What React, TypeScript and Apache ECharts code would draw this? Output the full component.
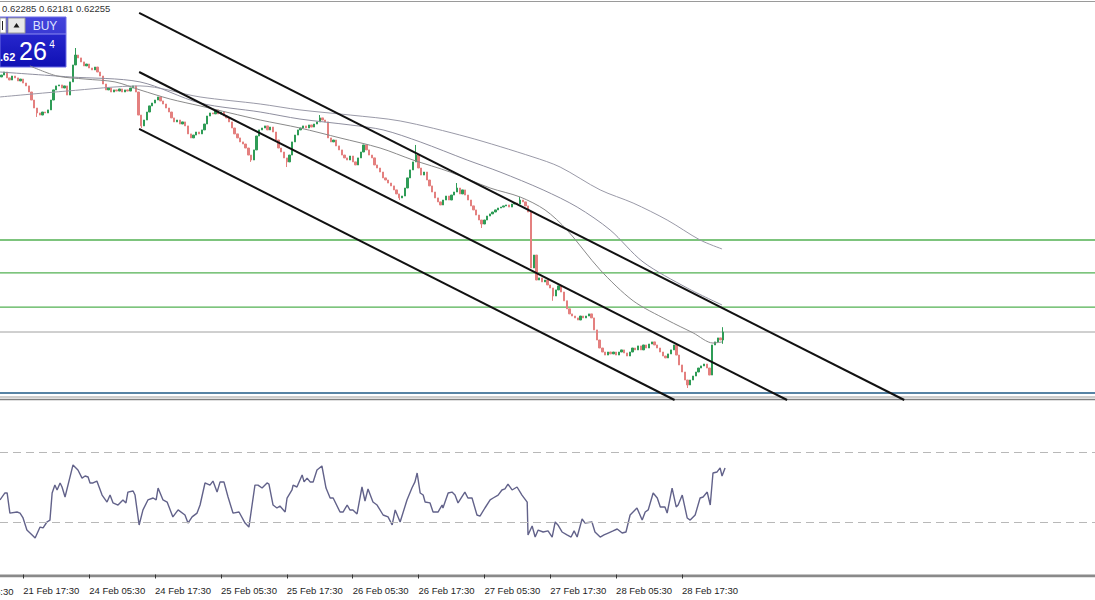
import React, { useEffect, useRef } from "react";
import * as echarts from "echarts";

// ---------- data ----------
const SLOT_COUNT = 399; // 30-minute slots visible across the window
const firstOpen = 0.63849;

// closing prices of the M30 candles (index = slot)
const closes = [
  0.63861, 0.6388, 0.63843, 0.6383, 0.63855,
  0.63843, 0.63824, 0.63836, 0.63811, 0.63793,
  0.63755, 0.63705, 0.63655, 0.63624, 0.63611,
  0.6363, 0.63624, 0.63643, 0.63705, 0.63768,
  0.63793, 0.63799, 0.6378, 0.63793, 0.63736,
  0.63818, 0.63924, 0.63986, 0.63968, 0.63943,
  0.63918, 0.6393, 0.63905, 0.63893, 0.63911,
  0.6388, 0.63855, 0.63805, 0.63768, 0.6378,
  0.63755, 0.63768, 0.63761, 0.63774, 0.63755,
  0.63768, 0.63761, 0.6378, 0.63793, 0.63755,
  0.63611, 0.63543, 0.6358, 0.6363, 0.63668,
  0.63686, 0.63705, 0.63724, 0.63699, 0.6368,
  0.63655, 0.6363, 0.63593, 0.63568, 0.6358,
  0.63555, 0.63568, 0.63543, 0.63493, 0.63468,
  0.63486, 0.63505, 0.63493, 0.63518, 0.63555,
  0.63605, 0.63624, 0.63618, 0.63643, 0.63618,
  0.6363, 0.63605, 0.63593, 0.63568, 0.6353,
  0.63493, 0.63468, 0.63443, 0.6343, 0.63405,
  0.63361, 0.6333, 0.63393, 0.6348, 0.63518,
  0.6353, 0.63543, 0.63518, 0.63536, 0.63505,
  0.63455, 0.63405, 0.6338, 0.63343, 0.63318,
  0.63361, 0.63443, 0.63486, 0.63518, 0.6353,
  0.63543, 0.6353, 0.63549, 0.63536, 0.63555,
  0.63568, 0.63593, 0.6358, 0.63568, 0.63468,
  0.63443, 0.63455, 0.63418, 0.63393, 0.63361,
  0.63343, 0.6333, 0.63355, 0.63318, 0.63299,
  0.63343, 0.6338, 0.63424, 0.63393, 0.63361,
  0.63343, 0.63299, 0.6328, 0.63255, 0.63218,
  0.63205, 0.63186, 0.63168, 0.63143, 0.63118,
  0.63093, 0.63105, 0.63155, 0.63218, 0.63268,
  0.63318, 0.63361, 0.6328, 0.63236, 0.63255,
  0.63205, 0.63168, 0.6313, 0.63093, 0.63068,
  0.63049, 0.6308, 0.63105, 0.6308, 0.63111,
  0.6313, 0.63155, 0.63118, 0.63143, 0.63111,
  0.6308, 0.63043, 0.63018, 0.62986, 0.62955,
  0.6293, 0.62955, 0.6298, 0.62993, 0.63005,
  0.63018, 0.6303, 0.63036, 0.63043, 0.63049,
  0.63036, 0.63055, 0.63061, 0.63055, 0.6308,
  0.63068, 0.63043, 0.63005, 0.62655, 0.62736,
  0.6258, 0.62593, 0.62568, 0.6258, 0.62549,
  0.6253, 0.6248, 0.62518, 0.62543, 0.62505,
  0.6245, 0.624, 0.62368, 0.62355, 0.62343,
  0.6233, 0.62355, 0.62343, 0.62355, 0.62368,
  0.62343, 0.62268, 0.62205, 0.62155, 0.6213,
  0.62111, 0.6213, 0.62118, 0.6213, 0.62111,
  0.6213, 0.62143, 0.62124, 0.62105, 0.6213,
  0.62155, 0.62143, 0.62168, 0.62143, 0.62174,
  0.62155, 0.6218, 0.62193, 0.62174, 0.62155,
  0.6213, 0.62105, 0.62093, 0.62118, 0.62143,
  0.62174, 0.62111, 0.62049, 0.62005, 0.61955,
  0.61924, 0.61955, 0.6198, 0.62005, 0.6203,
  0.62043, 0.62055, 0.6203, 0.61986, 0.62174,
  0.62193, 0.62218, 0.62205, 0.62255,
];

// visible wick extremes: [slot, low, high]
const wicks: [number, number | null, number | null][] = [
  [13, 0.63599, null],
  [27, null, 0.6403],
  [51, 0.6353, null],
  [91, 0.63318, null],
  [104, 0.63286, null],
  [116, null, 0.63611],
  [145, 0.6308, null],
  [151, null, 0.63424],
  [166, null, 0.63186],
  [175, 0.62905, null],
  [189, null, 0.63099],
  [201, 0.6245, null],
  [250, 0.61905, null],
  [263, 0.62181, 0.62285],
];

// moving averages: [slot, price]
const fastMA = [
  [10.4, 0.63918], [20.3, 0.63855], [30.5, 0.63836], [41.4, 0.63818], [50.5, 0.63768],
  [61.5, 0.63711], [72.4, 0.63668], [83.3, 0.63624], [94.3, 0.6358], [108.8, 0.6353],
  [123.4, 0.63468], [138.0, 0.63405], [150.0, 0.6333], [163.5, 0.63255], [178.1, 0.63155],
  [189.0, 0.63099], [198.1, 0.63018], [206.1, 0.62893], [218.2, 0.62643], [230.2, 0.6245],
  [242.6, 0.6233], [252.1, 0.62249], [259.3, 0.62186], [262.6, 0.62193],
];
const midMA = [
  [-0.5, 0.6388], [25.0, 0.63849], [50.5, 0.63818], [72.4, 0.63686], [94.3, 0.6363],
  [108.8, 0.63586], [127.1, 0.63549], [139.1, 0.63518], [152.6, 0.63443], [169.7, 0.6333],
  [181.7, 0.63255], [197.4, 0.63143], [209.8, 0.63036], [221.8, 0.62893], [233.8, 0.62693],
  [249.9, 0.6253], [262.6, 0.62424],
];
const slowMA = [
  [-0.5, 0.63724], [23.9, 0.63761], [50.5, 0.63793], [72.4, 0.63724], [94.3, 0.6368],
  [108.8, 0.63643], [127.1, 0.63611], [145.3, 0.63574], [169.7, 0.63474], [193.7, 0.63349],
  [203.6, 0.63286], [218.2, 0.63143], [230.2, 0.63061], [242.6, 0.62955], [254.6, 0.6283],
  [262.6, 0.62774],
];

// trend channel lines: [slot, price] end points
const channelUpper = [[50.2, 0.64249], [329.0, 0.6183]];
const channelMiddle = [[50.2, 0.6388], [286.3, 0.6183]];
const channelLower = [[50.2, 0.63524], [245.3, 0.6183]];

// horizontal levels
const greenLevels = [0.6283, 0.62624, 0.62411];
const bidPrice = 0.62255;
const blueLevel = 0.61874;

// RSI readings: [slot, value]
const rsi = [
  [-0.5, 42.6], [1.3, 46.6], [2.1, 46.6], [3.1, 35.1], [5.7, 35.7], [6.8, 35.1], [7.9, 32.3],
  [9.3, 25.4], [11.2, 22.6], [12.3, 20.9], [14.1, 27.1], [15.2, 26.6], [16.6, 30.0], [17.7, 31.1],
  [18.5, 46.6], [19.5, 51.1], [20.3, 48.3], [21.4, 52.3], [22.1, 50.0], [23.2, 44.3], [26.1, 62.6],
  [27.9, 59.7], [29.4, 55.1], [30.5, 56.3], [31.6, 55.7], [32.3, 52.3], [33.4, 52.3], [34.8, 53.4],
  [36.7, 45.4], [38.5, 41.4], [39.6, 45.4], [40.7, 40.9], [42.5, 39.7], [44.3, 42.6], [45.4, 40.9],
  [46.1, 47.1], [48.0, 47.7], [48.7, 45.4], [50.2, 28.3], [51.6, 36.9], [53.4, 42.6], [55.3, 43.7],
  [56.4, 42.6], [57.1, 49.4], [58.9, 42.6], [60.4, 41.4], [62.5, 32.9], [64.4, 36.9], [66.9, 34.0],
  [68.0, 29.4], [69.5, 32.9], [71.3, 35.1], [72.4, 39.7], [74.2, 52.3], [76.0, 51.1], [77.1, 53.4],
  [78.6, 47.1], [79.7, 52.9], [81.1, 52.9], [82.6, 44.3], [84.4, 35.1], [86.6, 35.7], [88.8, 29.4],
  [90.2, 27.1], [92.4, 51.1], [93.5, 51.1], [95.0, 49.4], [96.8, 52.3], [97.5, 51.7], [99.0, 39.7],
  [100.4, 38.0], [101.5, 39.1], [103.4, 35.7], [104.1, 43.7], [105.9, 48.3], [106.3, 51.1],
  [107.7, 50.0], [109.6, 56.9], [110.3, 52.9], [111.4, 55.1], [112.5, 52.9], [113.6, 52.9],
  [115.0, 59.7], [116.8, 62.0], [118.3, 49.4], [119.8, 43.7], [120.9, 43.7], [123.4, 35.7],
  [124.5, 35.7], [126.0, 39.7], [127.0, 36.9], [128.1, 36.9], [129.6, 34.6], [131.4, 50.0],
  [132.5, 42.0], [133.6, 48.9], [135.4, 41.4], [136.9, 39.7], [139.1, 34.0], [140.9, 32.9],
  [142.4, 28.3], [143.5, 36.9], [145.3, 30.0], [147.8, 42.6], [149.6, 49.4], [150.7, 52.9],
  [151.5, 58.0], [152.6, 46.6], [153.7, 45.4], [154.4, 41.4], [156.2, 40.9], [157.3, 35.7],
  [159.1, 35.7], [160.6, 39.7], [160.9, 38.0], [162.8, 46.6], [164.2, 47.1], [165.3, 45.4],
  [166.4, 40.9], [168.9, 47.1], [170.0, 43.7], [171.5, 43.7], [173.3, 34.0], [174.4, 33.4],
  [176.2, 38.0], [178.1, 42.6], [179.2, 43.7], [181.0, 45.4], [182.4, 48.3], [183.5, 48.9],
  [184.6, 51.7], [186.1, 48.3], [187.9, 50.0], [189.7, 45.4], [191.6, 41.4], [191.9, 22.6],
  [193.4, 27.7], [194.5, 21.4], [195.6, 25.4], [197.4, 24.3], [199.2, 24.9], [200.7, 21.4],
  [201.8, 30.0], [202.8, 28.3], [204.3, 24.3], [206.1, 22.6], [207.6, 21.4], [208.7, 24.9],
  [209.8, 21.4], [211.6, 31.7], [212.7, 29.4], [215.2, 30.0], [216.3, 24.3], [218.2, 21.4],
  [219.6, 22.6], [221.1, 23.7], [222.9, 24.9], [224.4, 26.0], [226.2, 23.7], [227.6, 24.3],
  [229.1, 34.0], [231.6, 38.0], [233.5, 31.1], [234.6, 35.7], [235.7, 36.9], [237.5, 46.6],
  [239.0, 43.7], [240.1, 38.6], [241.8, 38.6], [242.6, 35.1], [244.4, 49.4], [245.9, 38.6],
  [246.6, 39.7], [248.1, 45.4], [249.9, 32.3], [251.0, 31.1], [252.8, 34.0], [254.6, 43.7],
  [255.7, 44.3], [257.2, 47.1], [258.3, 39.7], [259.3, 58.0], [260.8, 58.6], [261.9, 60.9],
  [262.6, 56.3], [263.7, 60.9],
];
const rsiLevels = [70, 30];

// time axis
const tickSlots = [8, 32, 56, 80, 104, 128, 152, 176, 200, 224, 248];
const tickLabels = [
  "21 Feb 17:30", "24 Feb 05:30", "24 Feb 17:30", "25 Feb 05:30", "25 Feb 17:30",
  "26 Feb 05:30", "26 Feb 17:30", "27 Feb 05:30", "27 Feb 17:30", "28 Feb 05:30", "28 Feb 17:30",
];
const cutLabel = "21 Feb 05:30";
const ohlcText = "0.62285 0.62181 0.62255";
const buyText = "BUY";
const priceSmall = ".62";
const priceBig = "26";
const priceSup = "4";

const FONT = "'Liberation Sans', Arial, sans-serif";

export default function App() {
  const ref = useRef<HTMLDivElement>(null);
  useEffect(() => {
    document.body.style.margin = "0";
    if (!ref.current) return;
    const chart = echarts.init(ref.current, undefined, { renderer: "svg" });

    const candles = closes.map((c, i) => {
      const o = i === 0 ? firstOpen : closes[i - 1];
      let lo = Math.min(o, c);
      let hi = Math.max(o, c);
      const w = wicks.find((x) => x[0] === i);
      if (w) {
        if (w[1] != null) lo = Math.min(lo, w[1]);
        if (w[2] != null) hi = Math.max(hi, w[2]);
      }
      return [o, c, lo, hi];
    });
    const cats = Array.from({ length: SLOT_COUNT }, (_, i) => String(i));
    const labelMap = new Map<number, string>(tickSlots.map((s, i) => [s, tickLabels[i]]));
    const slotW = 1095 / SLOT_COUNT;
    const cutX = (tickSlots[0] + 0.5) * slotW - 24 * slotW;
    const xMin = -0.5;
    const xMax = SLOT_COUNT - 0.5;

    const lineSeries = (data: number[][], color: string, width: number, smooth: boolean | number, z = 2) => ({
      type: "line",
      xAxisIndex: 1,
      yAxisIndex: 0,
      data,
      showSymbol: false,
      symbol: "none",
      smooth,
      silent: true,
      z,
      lineStyle: { color, width },
    });
    const level = (v: number) => [[xMin, v], [xMax, v]];

    const option: any = {
      animation: false,
      backgroundColor: "#ffffff",
      grid: [
        { left: 0, right: 0, top: 0, height: 400 },
        { left: 0, right: 0, top: 399.5, height: 175 },
      ],
      xAxis: [
        { type: "category", gridIndex: 0, data: cats, boundaryGap: true, show: false },
        { type: "value", gridIndex: 0, min: xMin, max: xMax, show: false },
        {
          type: "category",
          gridIndex: 1,
          data: cats,
          boundaryGap: true,
          position: "bottom",
          offset: 8.5,
          axisLine: { show: false },
          axisTick: {
            show: true,
            alignWithLabel: true,
            length: 4,
            interval: (i: number) => labelMap.has(i),
            lineStyle: { color: "#333", width: 1 },
          },
          axisLabel: {
            show: true,
            interval: (i: number) => labelMap.has(i),
            formatter: (v: string) => labelMap.get(Number(v)) ?? "",
            align: "left",
            margin: 2.5,
            color: "#1e1e1e",
            fontSize: 9.5,
            fontFamily: FONT,
          },
          splitLine: { show: false },
        },
        { type: "value", gridIndex: 1, min: xMin, max: xMax, show: false },
      ],
      yAxis: [
        { type: "value", gridIndex: 0, min: 0.6183, max: 0.6433, show: false, splitLine: { show: false } },
        { type: "value", gridIndex: 1, min: 0, max: 100, show: false, splitLine: { show: false } },
      ],
      series: [
        ...greenLevels.map((v) => lineSeries(level(v), "#52b152", 1.3, false, 1)),
        lineSeries(level(bidPrice), "#a0a0a0", 1, false, 1),
        lineSeries(level(blueLevel), "#1f5a86", 1.5, false, 1),
        {
          type: "candlestick",
          xAxisIndex: 0,
          yAxisIndex: 0,
          data: candles,
          barWidth: 1.8,
          silent: true,
          z: 3,
          itemStyle: {
            color: "#2e9c56",
            color0: "#e4807f",
            borderColor: "#2e9c56",
            borderColor0: "#e4807f",
            borderWidth: 1,
          },
        },
        lineSeries(slowMA, "#9a9aa8", 1, 0.3, 4),
        lineSeries(midMA, "#8f8f9f", 1, 0.3, 4),
        lineSeries(fastMA, "#8a8a8a", 1, 0.3, 4),
        lineSeries(channelUpper, "#111111", 2, false, 5),
        lineSeries(channelMiddle, "#111111", 2, false, 5),
        lineSeries(channelLower, "#111111", 2, false, 5),
        {
          type: "line",
          xAxisIndex: 3,
          yAxisIndex: 1,
          data: rsi,
          showSymbol: false,
          symbol: "none",
          silent: true,
          lineStyle: { color: "#62628a", width: 1.4 },
          markLine: {
            silent: true,
            symbol: "none",
            label: { show: false },
            data: rsiLevels.map((v) => ({ yAxis: v, lineStyle: { color: "#b8b8b8", width: 1, type: [8, 5] } })),
          },
        },
      ],
      graphic: [
        { type: "line", shape: { x1: 0, y1: 1.5, x2: 1095, y2: 1.5 }, style: { stroke: "#9a9a9a", lineWidth: 1 }, silent: true },
        { type: "line", shape: { x1: 0, y1: 397, x2: 1095, y2: 397 }, style: { stroke: "#9c9c9c", lineWidth: 1 }, silent: true },
        { type: "line", shape: { x1: 0, y1: 399.5, x2: 1095, y2: 399.5 }, style: { stroke: "#808080", lineWidth: 1.5 }, silent: true },
        { type: "rect", shape: { x: 0, y: 574.5, width: 1095, height: 2.8 }, style: { fill: "#8a8a8a" }, silent: true },
        {
          type: "text",
          x: cutX,
          y: 583.5 + 2.5,
          style: { text: cutLabel, fill: "#1e1e1e", font: `9.5px ${FONT}`, align: "left", verticalAlign: "top" },
          silent: true,
        },
        {
          type: "text",
          x: 2,
          y: 8.5,
          style: { text: ohlcText, fill: "#333", font: `9.5px ${FONT}`, align: "left", verticalAlign: "middle" },
          silent: true,
        },
        // one-click trading panel
        {
          type: "rect",
          shape: { x: 0, y: 17, width: 66, height: 50 },
          style: {
            fill: new echarts.graphic.LinearGradient(0, 0, 0, 1, [
              { offset: 0, color: "#4444dc" },
              { offset: 0.34, color: "#3a3ad4" },
              { offset: 0.35, color: "#2626cc" },
              { offset: 1, color: "#1010b4" },
            ]),
            stroke: "#6c6ce6",
            lineWidth: 1,
          },
          silent: true,
        },
        { type: "line", shape: { x1: 0, y1: 34, x2: 66, y2: 34 }, style: { stroke: "#8a8af0", lineWidth: 1 }, silent: true },
        { type: "rect", shape: { x: 0, y: 18, width: 6, height: 15 }, style: { fill: "#ffffff", stroke: "#a0a0a0", lineWidth: 1 }, silent: true },
        { type: "line", shape: { x1: 2.5, y1: 21, x2: 2.5, y2: 30 }, style: { stroke: "#222", lineWidth: 1 }, silent: true },
        { type: "rect", shape: { x: 8, y: 18, width: 17, height: 15 }, style: { fill: "#e8e8e8", stroke: "#9a9a9a", lineWidth: 1 }, silent: true },
        { type: "polygon", shape: { points: [[13.5, 27.5], [19.5, 27.5], [16.5, 23]] }, style: { fill: "#1a1a1a" }, silent: true },
        {
          type: "text",
          x: 45,
          y: 26,
          style: { text: buyText, fill: "#dfe3ff", font: `12px ${FONT}`, align: "center", verticalAlign: "middle" },
          silent: true,
        },
        {
          type: "text",
          x: 0,
          y: 57,
          style: { text: priceSmall, fill: "#ffffff", font: `bold 11px ${FONT}`, align: "left", verticalAlign: "middle" },
          silent: true,
        },
        {
          type: "text",
          x: 33,
          y: 51,
          style: { text: priceBig, fill: "#ffffff", font: `25px ${FONT}`, align: "center", verticalAlign: "middle" },
          silent: true,
        },
        {
          type: "text",
          x: 52,
          y: 44,
          style: { text: priceSup, fill: "#ffffff", font: `10px ${FONT}`, align: "center", verticalAlign: "middle" },
          silent: true,
        },
      ],
    };
    chart.setOption(option);
    return () => chart.dispose();
  }, []);

  return (
    <div
      ref={ref}
      style={{ position: "fixed", left: 0, top: 0, width: 1095, height: 600, background: "#ffffff" }}
    />
  );
}
